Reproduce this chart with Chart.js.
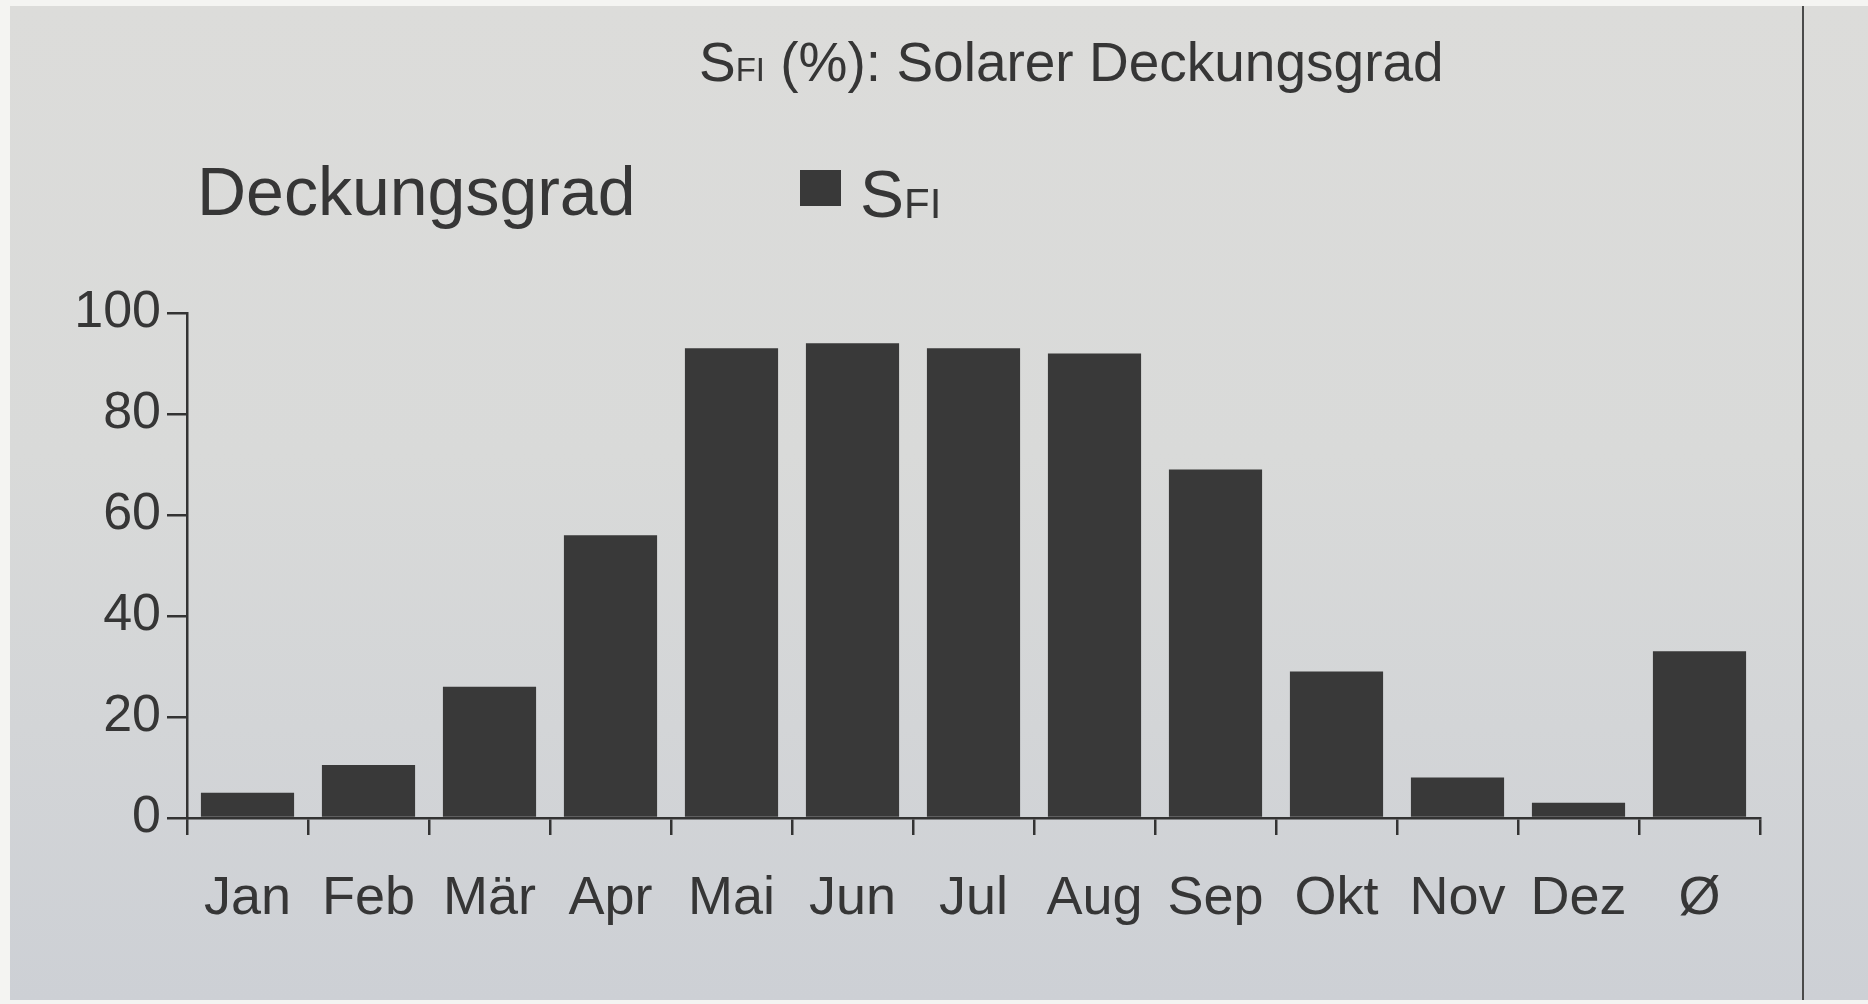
<!DOCTYPE html>
<html>
<head>
<meta charset="utf-8">
<title>SFI (%): Solarer Deckungsgrad</title>
<script src="https://cdn.jsdelivr.net/npm/chart.js@4.4.1/dist/chart.umd.min.js"></script>
<style>
  html, body { margin: 0; padding: 0; background: #f4f4f2; overflow: hidden; }
  #paper {
    position: absolute; left: 10px; top: 6px; width: 1858px; height: 994px;
    background: linear-gradient(180deg, #dcdcda 0%, #d9dad9 45%, #cdd0d5 100%);
  }
  #rule { position: absolute; left: 1802px; top: 6px; width: 2px; height: 994px; background: #4a4a4a; }
  #chart { position: absolute; left: 0; top: 0; }
</style>
</head>
<body>
<div id="paper"></div>
<div id="rule"></div>
<canvas id="chart" width="1868" height="1004"></canvas>
<script>
// values
const months = ['Jan', 'Feb', 'Mär', 'Apr', 'Mai', 'Jun', 'Jul', 'Aug', 'Sep', 'Okt', 'Nov', 'Dez', 'Ø'];
const sfiValues = [5, 10.5, 26, 56, 93, 94, 93, 92, 69, 29, 8, 3, 33];
const yTicks = [0, 20, 40, 60, 80, 100];

const titleMain = 'S';
const titleSub = 'FI';
const titleRest = ' (%): Solarer Deckungsgrad';
const unitLabel = 'Deckungsgrad';
const seriesMain = 'S';
const seriesSub = 'FI';

const ink = '#363636';
const barInk = '#393939';
const fontFamily = '"Liberation Sans", Arial, sans-serif';

// title, unit label and legend need a subscript, so they are drawn here
const printText = {
    id: 'printText',
    afterDraw(chart) {
        const ctx = chart.ctx;
        ctx.save();
        ctx.fillStyle = ink;
        ctx.textBaseline = 'alphabetic';
        ctx.textAlign = 'left';

        // title
        let x = 699;
        ctx.font = '55px ' + fontFamily;
        ctx.fillText(titleMain, x, 81);
        x += ctx.measureText(titleMain).width;
        ctx.font = '33px ' + fontFamily;
        ctx.fillText(titleSub, x, 81);
        x += ctx.measureText(titleSub).width;
        ctx.font = '55px ' + fontFamily;
        ctx.fillText(titleRest, x, 81);

        // unit label above the axis
        ctx.font = '68px ' + fontFamily;
        ctx.fillText(unitLabel, 197, 215);

        // legend
        const ds = chart.data.datasets[0];
        ctx.fillStyle = ds.backgroundColor;
        ctx.fillRect(800, 170, 41, 36);
        ctx.fillStyle = ink;
        ctx.font = '66px ' + fontFamily;
        ctx.fillText(seriesMain, 860, 217);
        const sw = ctx.measureText(seriesMain).width;
        ctx.font = '42px ' + fontFamily;
        ctx.fillText(seriesSub, 860 + sw, 218);
        ctx.restore();
    }
};

const axisColor = '#333333';

new Chart(document.getElementById('chart'), {
    type: 'bar',
    data: {
        labels: months,
        datasets: [{
            label: 'SFI',
            data: sfiValues,
            backgroundColor: barInk,
            borderWidth: 0,
            barPercentage: 0.77,
            categoryPercentage: 1.0
        }]
    },
    options: {
        responsive: false,
        animation: false,
        layout: { padding: { top: 313, left: 0, right: 108, bottom: 0 } },
        plugins: {
            legend: { display: false },
            title: { display: false },
            tooltip: { enabled: false }
        },
        scales: {
            x: {
                grid: {
                    offset: true,
                    drawOnChartArea: false,
                    drawTicks: true,
                    tickLength: 17,
                    color: axisColor,
                    lineWidth: 2.5
                },
                border: { display: true, color: axisColor, width: 2.5 },
                ticks: {
                    color: ink,
                    padding: 32,
                    maxRotation: 0,
                    autoSkip: false,
                    font: { family: fontFamily, size: 54 }
                },
                afterFit(scale) { scale.height = 186; }
            },
            y: {
                min: 0,
                max: 100,
                afterBuildTicks(scale) { scale.ticks = yTicks.map(v => ({ value: v })); },
                grid: {
                    drawOnChartArea: false,
                    drawTicks: true,
                    tickLength: 20,
                    color: axisColor,
                    lineWidth: 2.5
                },
                border: { display: true, color: axisColor, width: 2.5 },
                ticks: {
                    color: ink,
                    padding: 6,
                    font: { family: fontFamily, size: 52 }
                },
                afterFit(scale) { scale.width = 187; }
            }
        }
    },
    plugins: [printText]
});
</script>
</body>
</html>
